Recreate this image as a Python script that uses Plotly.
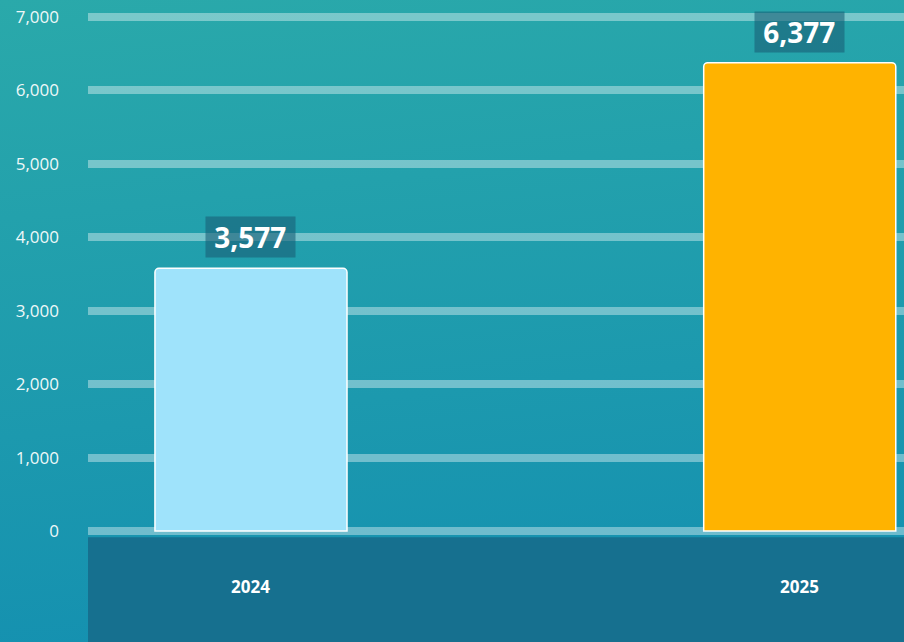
import base64
import plotly.graph_objects as go

# --- dane ---
lata = ["2024", "2025"]
wartosci = [3577, 6377]
kolory_slupkow = ["#9fe3fb", "#ffb300"]
tick_vals = [0, 1000, 2000, 3000, 4000, 5000, 6000, 7000]
tick_text = ["0", "1,000", "2,000", "3,000", "4,000", "5,000", "6,000", "7,000"]

# tło: gradient jako obraz SVG
svg = (
    '<svg xmlns="http://www.w3.org/2000/svg" width="100" height="100" preserveAspectRatio="none">'
    '<defs><linearGradient id="g" x1="0" y1="0" x2="0.15" y2="1">'
    '<stop offset="0" stop-color="#2aa9aa"/><stop offset="1" stop-color="#1591b0"/>'
    '</linearGradient></defs><rect width="100" height="100" fill="url(#g)"/></svg>'
)
tlo = "data:image/svg+xml;base64," + base64.b64encode(svg.encode()).decode()

W, H = 904, 642
ML, MT = 88, 10
y_min, y_max = -1512, 7095

fig = go.Figure(go.Bar(
    x=lata,
    y=wartosci,
    width=0.35,
    marker=dict(color=kolory_slupkow, line=dict(color="white", width=1.5), cornerradius=4),
    hoverinfo="skip",
))

# etykiety wartości nad słupkami i lata w ciemnym pasie
for i, (rok, w) in enumerate(zip(lata, wartosci)):
    fig.add_annotation(
        x=i, y=w, yanchor="bottom", yshift=10, showarrow=False,
        text=f"<b>\u00a0{w:,}\u00a0</b>",
        font=dict(family="Open Sans", size=28, color="white"),
        bgcolor="rgba(25,95,118,0.6)", borderpad=1,
    )
    fig.add_annotation(
        x=i, y=-760, showarrow=False,
        text=f"<b>{rok}</b>",
        font=dict(family="Open Sans", size=17, color="white"),
    )

# ciemny pas pod osią
fig.add_shape(type="rect", xref="paper", yref="y", x0=0, x1=1.05, y0=y_min, y1=-85,
              fillcolor="#16708f", line=dict(width=0), layer="below")

pw = W - ML
ph = H - MT
fig.add_layout_image(dict(
    source=tlo, xref="paper", yref="paper",
    x=-ML / pw, y=1 + MT / ph, sizex=1 + ML / pw + 0.01, sizey=1 + MT / ph,
    xanchor="left", yanchor="top", sizing="stretch", layer="below",
))

fig.update_layout(
    width=W, height=H,
    margin=dict(l=ML, r=0, t=MT, b=0),
    paper_bgcolor="#1f9dad",
    plot_bgcolor="rgba(0,0,0,0)",
    showlegend=False,
    xaxis=dict(type="category", range=[-0.297, 1.19], showticklabels=False, showgrid=False,
               zeroline=False, fixedrange=True),
    yaxis=dict(range=[y_min, y_max], tickvals=tick_vals, ticktext=tick_text,
               gridcolor="rgba(255,255,255,0.38)", gridwidth=8, zeroline=False,
               tickfont=dict(family="Open Sans", size=17, color="#eef8f8"),
               ticklabelstandoff=28, fixedrange=True),
)

fig.write_html("out.html", config={"displayModeBar": False},
               post_script="document.body.style.margin='0';")
